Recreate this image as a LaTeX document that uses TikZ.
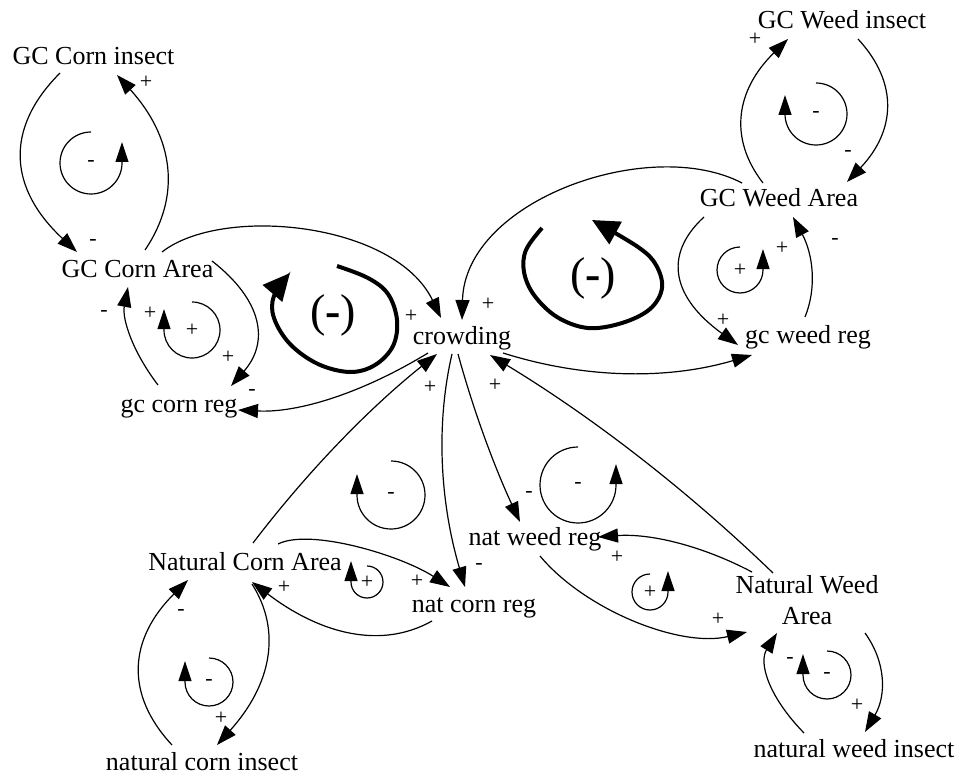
\documentclass[tikz,border=0pt]{standalone}
\usepackage{fontspec}
\setmainfont{Liberation Serif}
\usetikzlibrary{arrows.meta}
\begin{document}
\begin{tikzpicture}[x=1pt,y=-1pt,
  var/.style={font=\fontsize{26}{28}\selectfont, text height=18pt, text depth=6pt, inner sep=2pt},
  sgn/.style={font=\fontsize{22}{24}\selectfont, inner sep=0pt},
  lnk/.style={line width=1.2pt, -{Triangle[length=20pt,width=14pt]}},
  lp/.style={line width=1.2pt, -{Triangle[length=20pt,width=13pt]}},
  big/.style={line width=4pt, -{Triangle[length=27pt,width=25pt]}},
  bigl/.style={font=\fontsize{46}{50}\selectfont, inner sep=0pt}]
\useasboundingbox (0,0) rectangle (964,778);

% variables
\node[var] (gci) at (93.5,59) {GC Corn insect};
\node[var] (gca) at (137.5,271) {GC Corn Area};
\node[var] (gcr) at (179,406) {gc corn reg};
\node[var] (cr) at (462,338) {crowding};
\node[var] (gwi) at (842,23) {GC Weed insect};
\node[var] (gwa) at (779,201) {GC Weed Area};
\node[var] (gwr) at (808,337) {gc weed reg};
\node[var] (nwr) at (535,539) {nat weed reg};
\node[var] (ncr) at (474,606) {nat corn reg};
\node[var] (nca) at (245,564) {Natural Corn Area};
\node[var] (nci) at (202,764) {natural corn insect};
\node[font=\fontsize{26}{31}\selectfont, align=center, inner sep=2pt] (nwa) at (807,600.6) {Natural Weed\\Area};
\node[var] (nwi) at (854,751) {natural weed insect};

% connectors
\draw[lnk] ([shift={(-33.5,14)}]gci.center) .. controls (3.7,129.3) and (9.3,189) .. ([shift={(-60.5,-19)}]gca.center);
\draw[lnk] ([shift={(7.5,-21)}]gca.center) .. controls (182.3,195) and (173,136.7) .. ([shift={(23.5,16)}]gci.center);
\draw[lnk] ([shift={(24.5,-19)}]gca.center) .. controls (222,205) and (395,222) .. ([shift={(-21,-20)}]cr.center);
\draw[lnk] ([shift={(74.5,-10)}]gca.center) .. controls (263,300.7) and (269.3,342.3) .. ([shift={(52,-20)}]gcr.center);
\draw[lnk] ([shift={(-21,-21)}]gcr.center) .. controls (132,351) and (122,318.3) .. ([shift={(-9.5,16)}]gca.center);
\draw[lnk] ([shift={(-34,15)}]cr.center) .. controls (360.7,394) and (297.3,413) .. ([shift={(59,4)}]gcr.center);
\draw[lnk] ([shift={(8,-21)}]nca.center) .. controls (307.7,471.3) and (369,408.3) .. ([shift={(-25,16)}]cr.center);
\draw[lnk] ([shift={(-10,16)}]cr.center) .. controls (435.7,424.3) and (440,502) .. ([shift={(-9,-19)}]ncr.center);
\draw[lnk] ([shift={(-4,16)}]cr.center) .. controls (473.3,410) and (494,466) .. ([shift={(-15,-17)}]nwr.center);
\draw[lnk] ([shift={(33,-20)}]nca.center) .. controls (310,528) and (400,555) .. ([shift={(-24,-19)}]ncr.center);
\draw[lnk] ([shift={(-42,15)}]ncr.center) .. controls (382.7,648.7) and (322.7,635.7) .. ([shift={(7,18)}]nca.center);
\draw[lnk] ([shift={(-55,-28.6)}]nwa.center) .. controls (700.7,545) and (649.3,533.3) .. ([shift={(63,-2)}]nwr.center);
\draw[lnk] ([shift={(-34,-27.6)}]nwa.center) .. controls (686.7,489.7) and (592.3,417) .. ([shift={(28,17)}]cr.center);
\draw[lnk] ([shift={(5,17)}]nwr.center) .. controls (585,610) and (680,648) .. ([shift={(-60,31.4)}]nwa.center);
\draw[lnk] ([shift={(58,32.4)}]nwa.center) .. controls (886.3,662.7) and (886.3,695.7) .. ([shift={(11,-19)}]nwi.center);
\draw[lnk] ([shift={(-50,-18)}]nwi.center) .. controls (767.7,695.7) and (758.7,662.3) .. ([shift={(-30,32.4)}]nwa.center);
\draw[lnk] ([shift={(7,20)}]nca.center) .. controls (282.3,631.7) and (270.7,685.3) .. ([shift={(15,-19)}]nci.center);
\draw[lnk] ([shift={(-30,-19)}]nci.center) .. controls (124,693.3) and (129.3,638.3) .. ([shift={(-57,16)}]nca.center);
\draw[lnk] ([shift={(-16,-18)}]gwa.center) .. controls (728,137.7) and (736.3,89.7) .. ([shift={(-54,16)}]gwi.center);
\draw[lnk] ([shift={(16,16)}]gwi.center) .. controls (899,83.3) and (895.3,131) .. ([shift={(68,-19)}]gwa.center);
\draw[lnk] ([shift={(-75,16)}]gwa.center) .. controls (662,255.7) and (673.3,298.3) .. ([shift={(-70,8)}]gwr.center);
\draw[lnk] ([shift={(-3,-20)}]gwr.center) .. controls (817,287.7) and (813,254.3) .. ([shift={(14,16)}]gwa.center);
\draw[lnk] ([shift={(-37,-18)}]gwa.center) .. controls (650,135) and (465,200) .. ([shift={(0,-18)}]cr.center);
\draw[lnk] ([shift={(41,15)}]cr.center) .. controls (585.3,379) and (668.3,379.7) .. ([shift={(-56,18)}]gwr.center);

% polarity signs
\node[sgn] (s1) at (146,82) {+};
\node[sgn] (s2) at (93,242) {-};
\node[sgn] (s3) at (411,316) {+};
\node[sgn] (s4) at (228,357) {+};
\node[sgn] (s5) at (104,313) {-};
\node[sgn] (s6) at (150,313) {+};
\node[sgn] (s7) at (252,392) {-};
\node[sgn] (s8) at (430,387) {+};
\node[sgn] (s9) at (495,385) {+};
\node[sgn] (s10) at (479,566) {-};
\node[sgn] (s11) at (529,494) {-};
\node[sgn] (s12) at (417,581) {+};
\node[sgn] (s13) at (284,587) {+};
\node[sgn] (s14) at (617,557) {+};
\node[sgn] (s15) at (718,619) {+};
\node[sgn] (s16) at (857,705) {+};
\node[sgn] (s17) at (790,660) {-};
\node[sgn] (s18) at (221,718) {+};
\node[sgn] (s19) at (181,612) {-};
\node[sgn] (s20) at (755,39) {+};
\node[sgn] (s21) at (848,153) {-};
\node[sgn] (s22) at (723,320) {+};
\node[sgn] (s23) at (782,248) {+};
\node[sgn] (s24) at (835,241) {-};
\node[sgn] (s25) at (488,304) {+};

% small loops
\node[sgn] (l1) at (91,163) {-};
\draw[lp] (l1.center) ++(0,-31) arc[start angle=270,end angle=0,radius=31] -- ++(0,-21);
\node[sgn] (l2) at (192,330) {+};
\draw[lp] (l2.center) ++(0,-28) arc[start angle=270,end angle=540,radius=28] -- ++(0,-21);
\node[sgn] (l3) at (391,495) {-};
\draw[lp] (l3.center) ++(0,-34) arc[start angle=270,end angle=540,radius=34] -- ++(0,-21);
\node[sgn] (l4) at (578,485) {-};
\draw[lp] (l4.center) ++(0,-38) arc[start angle=270,end angle=0,radius=38] -- ++(0,-21);
\node[sgn] (l5) at (367,582) {+};
\draw[lp] (l5.center) ++(0,-16) arc[start angle=270,end angle=540,radius=16] -- ++(0,-21);
\node[sgn] (l6) at (650,592) {+};
\draw[lp] (l6.center) ++(0,-18) arc[start angle=270,end angle=0,radius=18] -- ++(0,-21);
\node[sgn] (l7) at (827,675) {-};
\draw[lp] (l7.center) ++(0,-24) arc[start angle=270,end angle=540,radius=24] -- ++(0,-21);
\node[sgn] (l8) at (209,682) {-};
\draw[lp] (l8.center) ++(0,-24) arc[start angle=270,end angle=540,radius=24] -- ++(0,-21);
\node[sgn] (l9) at (816,114) {-};
\draw[lp] (l9.center) ++(0,-31) arc[start angle=270,end angle=540,radius=31] -- ++(0,-19);
\node[sgn] (l10) at (740,270) {+};
\draw[lp] (l10.center) ++(0,-23) arc[start angle=270,end angle=0,radius=23] -- ++(0,-21);

% big loops
\node[bigl] (b1) at (333,315) {(\textbf{-})};
\draw[big] plot[smooth, tension=0.6] coordinates {(337,266) (368,278) (388,294) (397,320) (393,346) (375,365) (350,372) (318,364) (290,344) (274,318) (274,296) (290,273)};
\node[bigl] (b2) at (593,278) {(\textbf{-})};
\draw[big] plot[smooth, tension=0.6] coordinates {(542,228) (526,250) (524,272) (534,295) (557,317) (588,328) (622,323) (650,309) (662,288) (656,265) (638,247) (592,220)};
\end{tikzpicture}
\end{document}
